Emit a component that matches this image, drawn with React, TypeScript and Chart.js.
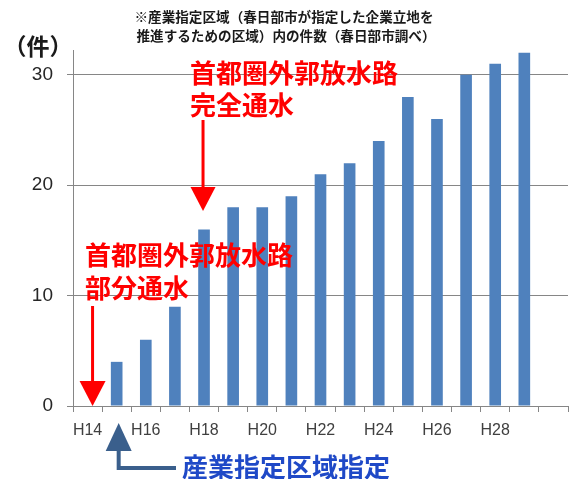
import React, { useEffect, useRef } from "react";
import { Chart, registerables } from "chart.js";

Chart.register(...registerables);

// 年度（平成）
const years = ["H14", "H15", "H16", "H17", "H18", "H19", "H20", "H21", "H22", "H23", "H24", "H25", "H26", "H27", "H28", "H29", "H30"];
// 産業指定区域内の件数
const counts: (number | null)[] = [0, 4, 6, 9, 16, 18, 18, 19, 21, 22, 24, 28, 26, 30, 31, 32, null];
// 軸に表示する年度
const labeledYears = ["H14", "H16", "H18", "H20", "H22", "H24", "H26", "H28"];
const yTicks = [0, 10, 20, 30];

const titleLines = ["※産業指定区域（春日部市が指定した企業立地を", "推進するための区域）内の件数（春日部市調べ）"];
const unitLabel = "（件）";
const partialLines = ["首都圏外郭放水路", "部分通水"];
const fullLines = ["首都圏外郭放水路", "完全通水"];
const designationLabel = "産業指定区域指定";

const CJK = '"Noto Sans CJK JP", "Noto Sans", sans-serif';
const RED = "#FF0000";
const ARROW_BLUE = "#3A5F8C";
const TEXT_BLUE = "#1F49C7";

function downArrow(ctx: CanvasRenderingContext2D, x: number, yTop: number, yTip: number, headLen: number, headW: number, color: string) {
  ctx.save();
  ctx.strokeStyle = color;
  ctx.fillStyle = color;
  ctx.lineWidth = 3;
  ctx.beginPath();
  ctx.moveTo(x, yTop);
  ctx.lineTo(x, yTip - headLen + 1);
  ctx.stroke();
  ctx.beginPath();
  ctx.moveTo(x - headW / 2, yTip - headLen);
  ctx.lineTo(x + headW / 2, yTip - headLen);
  ctx.lineTo(x, yTip);
  ctx.closePath();
  ctx.fill();
  ctx.restore();
}

const annotations = {
  id: "annotations",
  afterDraw(chart: any) {
    const { ctx, chartArea, scales } = chart;
    const xs = scales.x;
    const ys = scales.y;
    ctx.save();

    // タイトル
    ctx.fillStyle = "#1a1a1a";
    ctx.font = `bold 13.6px ${CJK}`;
    ctx.textAlign = "center";
    ctx.textBaseline = "middle";
    ctx.fillText(titleLines[0], 284, 17);
    ctx.fillText(titleLines[1], 286, 36);

    // 単位
    ctx.font = `bold 23px ${CJK}`;
    ctx.fillStyle = "#1a1a1a";
    ctx.fillText(unitLabel, 38, 46);

    // 部分通水
    ctx.fillStyle = RED;
    ctx.font = `bold 26px ${CJK}`;
    ctx.textAlign = "left";
    ctx.fillText(partialLines[0], 85, 255);
    ctx.fillText(partialLines[1], 85, 288);
    const x14 = xs.getPixelForValue(0) + 5;
    downArrow(ctx, x14, 306, ys.getPixelForValue(0), 25, 26, RED);

    // 完全通水
    ctx.fillText(fullLines[0], 190, 73);
    ctx.fillText(fullLines[1], 190, 105);
    const x18 = xs.getPixelForValue(4) - 1;
    downArrow(ctx, x18, 120, 211, 24, 25, RED);

    // 産業指定区域指定
    const x15 = xs.getPixelForValue(1) + 2;
    const tipY = chartArea.bottom + 17;
    ctx.fillStyle = ARROW_BLUE;
    ctx.strokeStyle = ARROW_BLUE;
    ctx.beginPath();
    ctx.moveTo(x15, tipY);
    ctx.lineTo(x15 + 13, tipY + 28);
    ctx.lineTo(x15 - 13, tipY + 28);
    ctx.closePath();
    ctx.fill();
    ctx.lineWidth = 4;
    ctx.lineJoin = "miter";
    ctx.beginPath();
    ctx.moveTo(x15, tipY + 27);
    ctx.lineTo(x15, 468);
    ctx.lineTo(176, 468);
    ctx.stroke();

    ctx.fillStyle = TEXT_BLUE;
    ctx.font = `bold 26px ${CJK}`;
    ctx.textAlign = "left";
    ctx.fillText(designationLabel, 182, 467);

    ctx.restore();
  },
};

const whiteBg = {
  id: "whiteBg",
  beforeDraw(chart: any) {
    const { ctx, width, height } = chart;
    ctx.save();
    ctx.fillStyle = "#ffffff";
    ctx.fillRect(0, 0, width, height);
    ctx.restore();
  },
};

export default function App() {
  const canvasRef = useRef<HTMLCanvasElement | null>(null);

  useEffect(() => {
    if (!canvasRef.current) return;
    const chart = new Chart(canvasRef.current, {
      type: "bar",
      data: {
        labels: years,
        datasets: [
          {
            label: "件数",
            data: counts,
            backgroundColor: "#4F81BD",
            borderWidth: 0,
            barPercentage: 0.4,
            categoryPercentage: 1,
          },
        ],
      },
      options: {
        responsive: false,
        maintainAspectRatio: false,
        animation: false,
        layout: { padding: { top: 50, right: 10, left: 0, bottom: 0 } },
        plugins: {
          legend: { display: false },
          title: { display: false },
          tooltip: { enabled: false },
        },
        scales: {
          x: {
            offset: true,
            grid: {
              offset: true,
              drawOnChartArea: false,
              drawTicks: true,
              tickLength: 6,
              color: "#868686",
            },
            border: { color: "#868686", width: 1 },
            ticks: {
              autoSkip: false,
              maxRotation: 0,
              padding: 9,
              color: "#404040",
              font: { family: '"Liberation Sans", Arial, sans-serif', size: 16 },
              callback: (_v: any, i: number) => (labeledYears.includes(years[i]) ? years[i] : ""),
            },
            afterFit: (scale: any) => {
              scale.height = 73;
            },
          },
          y: {
            min: 0,
            max: 32.25,
            grid: {
              color: "#868686",
              tickLength: 6,
            },
            border: { color: "#868686", width: 1 },
            ticks: {
              padding: 14,
              color: "#262626",
              font: { family: '"Liberation Sans", Arial, sans-serif', size: 19 },
            },
            afterBuildTicks: (scale: any) => {
              scale.ticks = yTicks.map((v) => ({ value: v }));
            },
            afterFit: (scale: any) => {
              scale.width = 73;
            },
          },
        },
      },
      plugins: [whiteBg, annotations],
    });
    return () => chart.destroy();
  }, []);

  return (
    <div style={{ position: "fixed", left: 0, top: 0, width: 578, height: 479, background: "#fff" }}>
      <canvas ref={canvasRef} width={578} height={479} style={{ display: "block" }} />
    </div>
  );
}
